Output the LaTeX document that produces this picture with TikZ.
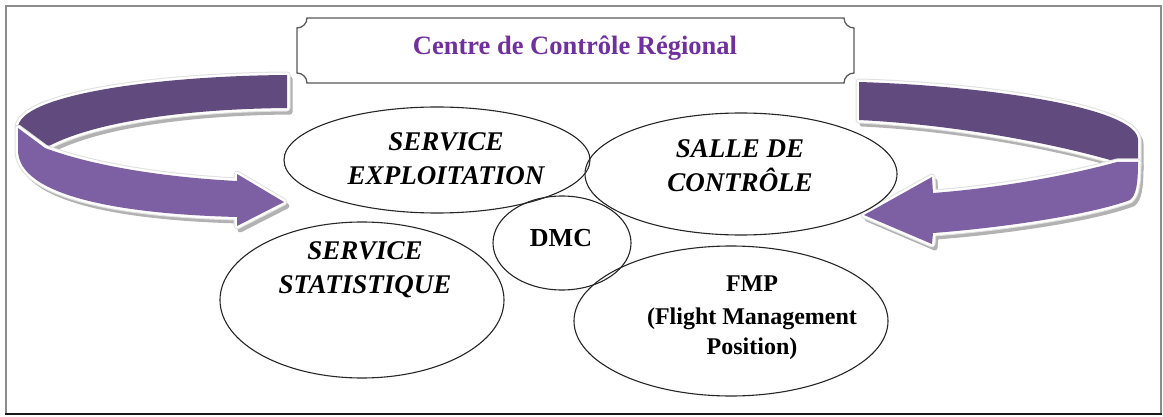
\documentclass[tikz,border=0pt]{standalone}
\usepackage{fontspec}
\setmainfont{Liberation Serif}
\usetikzlibrary{shapes.geometric}
\definecolor{bandDark}{HTML}{614B7E}
\definecolor{bandLight}{HTML}{7D5FA3}
\definecolor{titlePurple}{HTML}{7030A0}
\tikzset{
  oval/.style={ellipse, draw=black!85, line width=1.1pt, inner sep=0pt},
  lbl/.style={font=\bfseries\itshape\fontsize{27}{34}\selectfont, align=center, inner sep=0pt},
  lblup/.style={font=\bfseries\fontsize{24}{30}\selectfont, align=center, inner sep=0pt},
  bandshadow/.style={fill=black!30, draw=black!30, line width=5pt, line join=round},
  bandrim/.style={draw=black!12, line width=7pt, line join=round},
  bandwhite/.style={draw=white, line width=5pt, line join=round},
}
\begin{document}
\begin{tikzpicture}[x=1pt,y=-1pt]
\useasboundingbox (0,0) rectangle (1163,417);
\fill[white] (0,0) rectangle (1163,417);
% outer frame
\draw[black!45, line width=1.6pt] (6,413) -- (6,6) -- (1161,6) -- (1161,413);
\draw[black!90, line width=2.4pt] (5,414) -- (1162,414);

% ---------- left curved arrow ----------
\def\LDark{(287,75) .. controls (150,76) and (18,96) .. (18,128) -- (45,148) .. controls (90,123) and (180,109) .. (287,108) -- cycle}
\def\LLight{(18,128) -- (45,148) .. controls (90,165) and (160,177) .. (237,181) -- (237,174) -- (284,202) -- (237,226) -- (237,217) .. controls (120,214) and (18,196) .. (18,150) -- cycle}
\begin{scope}[shift={(3,4)}]
  \path[bandshadow] \LDark; \path[bandshadow] \LLight;
\end{scope}
\path[bandrim] \LDark; \path[bandwhite] \LDark; \fill[bandDark] \LDark;
\path[bandrim] \LLight; \path[bandwhite] \LLight; \fill[bandLight] \LLight;

% ---------- right curved arrow ----------
\def\RDark{(859,82) .. controls (990,86) and (1138,108) .. (1138,140) -- (1138,166) -- (1117,162) .. controls (1060,145) and (960,125) .. (859,120) -- cycle}
\def\RLight{(1117,162) -- (1138,162) .. controls (1138,185) and (1136,195) .. (1130,200) .. controls (1090,215) and (1000,228) .. (933,233) -- (932,244) -- (864,215) -- (932,177) -- (933,193) .. controls (1000,188) and (1070,175) .. (1117,162) -- cycle}
\begin{scope}[shift={(3,4)}]
  \path[bandshadow] \RDark; \path[bandshadow] \RLight;
\end{scope}
\path[bandrim] \RDark; \path[bandwhite] \RDark; \fill[bandDark] \RDark;
\path[bandrim] \RLight; \path[bandwhite] \RLight; \fill[bandLight] \RLight;

% ---------- title plaque ----------
\draw[black!65, line width=1.3pt, fill=white]
  (307,18) -- (844,18) .. controls (844,23.5) and (848.5,28) .. (854,28)
  -- (854,73) .. controls (848.5,73) and (844,77.5) .. (844,83)
  -- (307,83) .. controls (307,77.5) and (302.5,73) .. (297,73)
  -- (297,28) .. controls (302.5,28) and (307,23.5) .. (307,18) -- cycle;
\node[font=\bfseries\fontsize{26.5}{30}\selectfont, text=titlePurple] (title) at (575,48) {Centre de Contrôle Régional};

% ---------- ellipses ----------
\node[oval, minimum width=306, minimum height=106] (expl) at (437,160) {};
\node[oval, minimum width=312, minimum height=122] (salle) at (741,174) {};
\node[oval, minimum width=138, minimum height=94] (dmc) at (562,243) {};
\node[oval, minimum width=284, minimum height=156] (stat) at (362,300) {};
\node[oval, minimum width=314, minimum height=150] (fmp) at (731,321) {};

% ---------- labels ----------
\node[lbl] (explT) at (446,159) {SERVICE\\EXPLOITATION};
\node[lbl] (salleT) at (740,166) {SALLE DE\\CONTRÔLE};
\node[lbl] (statT) at (365,270) {SERVICE\\STATISTIQUE};
\node[font=\bfseries\fontsize{26}{30}\selectfont, inner sep=0pt] (dmcT) at (561,238) {DMC};
\node[lblup] (fmpT) at (752,318) {FMP\\[3pt](Flight Management\\Position)};
\end{tikzpicture}
\end{document}
